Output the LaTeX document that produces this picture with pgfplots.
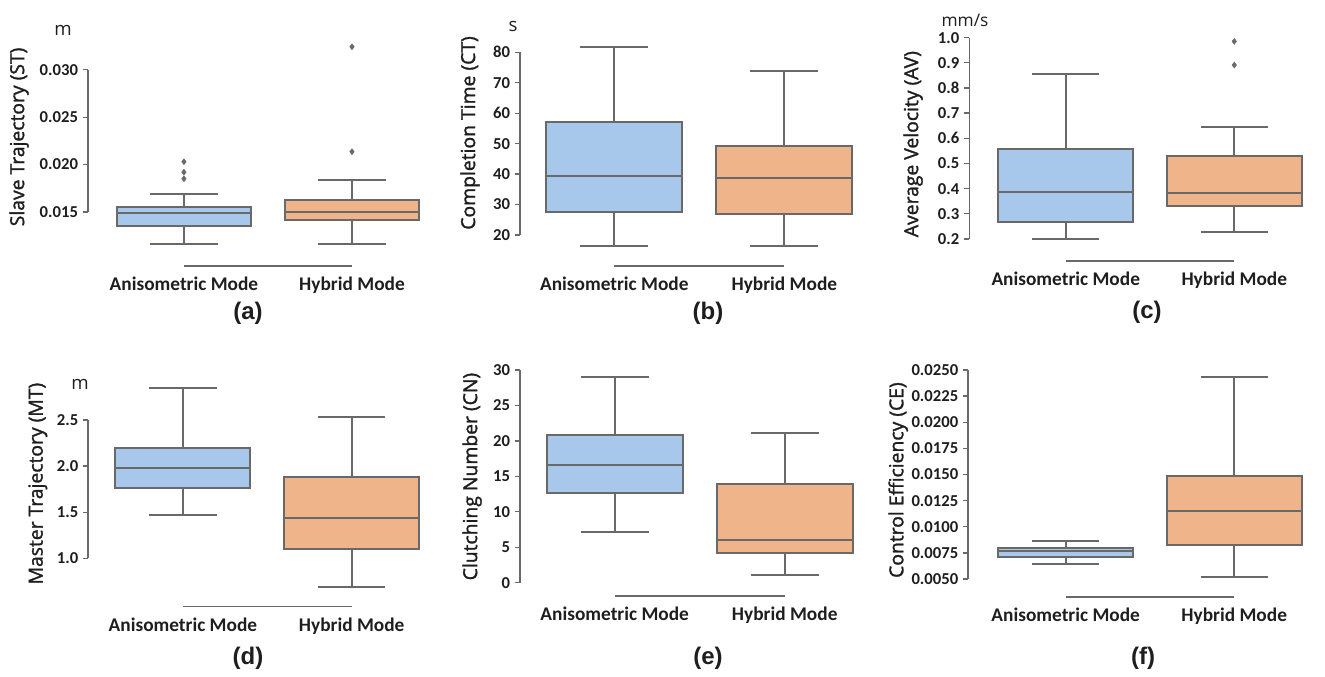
\documentclass[border=0pt]{standalone}
\usepackage{fontspec}
\setmainfont{Carlito}
\newfontfamily\arialfont{Liberation Sans}
\newfontfamily\ylfont[FakeBold=1.5]{Open Sans}
\newfontfamily\unitfont{Open Sans}
\usepackage{pgfplots}
\pgfplotsset{compat=1.18}
\usepgfplotslibrary{statistics}
\definecolor{bfill}{RGB}{167,199,235}
\definecolor{ofill}{RGB}{240,180,138}
\definecolor{lgray}{RGB}{105,105,105}
\definecolor{tgray}{RGB}{30,30,30}
\tikzset{spine/.style={draw=lgray,line width=1.2pt}}
\pgfplotsset{panel/.style={
  scale only axis, clip=false, scaled y ticks=false,
  axis lines*=left, axis line style={draw=none},
  xtick={0,1}, xticklabels={Anisometric Mode,Hybrid Mode},
  tick align=outside, major tick length=4pt,
  xtick style={draw=none},
  ytick style={draw=lgray,line width=1pt},
  yticklabel style={font=\bfseries\fontsize{12.5}{13}\selectfont, text=tgray},
  xticklabel style={font=\bfseries\fontsize{14.5}{16}\selectfont, text=tgray, yshift=-1pt},
  ylabel style={font=\ylfont\fontsize{14.5}{16}\selectfont, text=tgray, anchor=center},
  boxplot/draw direction=y,
  boxplot/box extend=0.8, boxplot/whisker extend=0.4,
},
bx/.style={fill=bfill, draw=lgray, line width=1.4pt, mark=diamond*, mark size=2.2pt, mark options={fill=lgray,draw=lgray,line width=0.4pt}},
ox/.style={fill=ofill, draw=lgray, line width=1.4pt, mark=diamond*, mark size=2.2pt, mark options={fill=lgray,draw=lgray,line width=0.4pt}}
}
\begin{document}
\begin{tikzpicture}
\useasboundingbox (0,0) rectangle (993.75pt,507pt);
% (a)
\begin{axis}[panel, at={(66pt,307.5pt)}, anchor=south west, width=261pt, height=177pt,
  xmin=-0.571, xmax=1.5, ymin=0.0093, ymax=0.0342,
  ytick={0.015,0.020,0.025,0.030}, yticklabels={0.015,0.020,0.025,0.030},
  ylabel={Slave Trajectory (ST)}, ylabel style={at={(axis description cs:-0.198,0.547)}}]
\addplot[bx, boxplot prepared={lower whisker=0.01162, lower quartile=0.01356, median=0.01486, upper quartile=0.0155, upper whisker=0.0169, draw position=0}]
  table[row sep=\\, y index=0] {0.0203\\0.0192\\0.0185\\};
\addplot[ox, boxplot prepared={lower whisker=0.01162, lower quartile=0.01416, median=0.01503, upper quartile=0.01623, upper whisker=0.01838, draw position=1}]
  table[row sep=\\, y index=0] {0.02136\\0.03243\\};
\draw[spine] (axis cs:-0.571,0.015) -- (axis cs:-0.571,0.030);
\draw[spine] (axis cs:0,0.0093) -- (axis cs:1,0.0093);
\end{axis}
% (b)
\begin{axis}[panel, at={(390pt,307.5pt)}, anchor=south west, width=262pt, height=178.5pt,
  xmin=-0.555, xmax=1.5, ymin=9.82, ymax=87.98,
  ytick={20,30,40,50,60,70,80}, yticklabels={20,30,40,50,60,70,80},
  ylabel={Completion Time (CT)}, ylabel style={at={(axis description cs:-0.143,0.559)}}]
\addplot[bx, boxplot prepared={lower whisker=16.5, lower quartile=27.55, median=39.5, upper quartile=57.0, upper whisker=81.7, draw position=0}]
  coordinates {};
\addplot[ox, boxplot prepared={lower whisker=16.5, lower quartile=27.0, median=38.8, upper quartile=49.3, upper whisker=73.9, draw position=1}]
  coordinates {};
\draw[spine] (axis cs:-0.555,20) -- (axis cs:-0.555,80);
\draw[spine] (axis cs:0,9.82) -- (axis cs:1,9.82);
\end{axis}
% (c)
\begin{axis}[panel, at={(727pt,311.25pt)}, anchor=south west, width=261.9pt, height=180.75pt,
  xmin=-0.572, xmax=1.5, ymin=0.1126, ymax=1.07,
  ytick={0.2,0.3,0.4,0.5,0.6,0.7,0.8,0.9,1.0}, yticklabels={0.2,0.3,0.4,0.5,0.6,0.7,0.8,0.9,1.0},
  ylabel={Average Velocity (AV)}, ylabel style={at={(axis description cs:-0.161,0.485)}}]
\addplot[bx, boxplot prepared={lower whisker=0.199, lower quartile=0.266, median=0.3855, upper quartile=0.5576, upper whisker=0.857, draw position=0}]
  coordinates {};
\addplot[ox, boxplot prepared={lower whisker=0.2266, lower quartile=0.33, median=0.3815, upper quartile=0.5298, upper whisker=0.645, draw position=1}]
  table[row sep=\\, y index=0] {0.891\\0.985\\};
\draw[spine] (axis cs:-0.572,0.2) -- (axis cs:-0.572,1.0);
\draw[spine] (axis cs:0,0.1126) -- (axis cs:1,0.1126);
\end{axis}
% (d)
\begin{axis}[panel, at={(66.2pt,52pt)}, anchor=south west, width=260.8pt, height=170pt,
  xmin=-0.561, xmax=1.5, ymin=0.475, ymax=2.934,
  ytick={1.0,1.5,2.0,2.5}, yticklabels={1.0,1.5,2.0,2.5},
  ylabel={Master Trajectory (MT)}, ylabel style={at={(axis description cs:-0.145,0.543)}}]
\addplot[bx, boxplot prepared={lower whisker=1.473, lower quartile=1.766, median=1.979, upper quartile=2.2, upper whisker=2.847, draw position=0}]
  coordinates {};
\addplot[ox, boxplot prepared={lower whisker=0.692, lower quartile=1.104, median=1.44, upper quartile=1.879, upper whisker=2.529, draw position=1}]
  coordinates {};
\draw[spine] (axis cs:-0.561,1.0) -- (axis cs:-0.561,2.5);
\draw[spine] (axis cs:0,0.475) -- (axis cs:1,0.475);
\end{axis}
% (e)
\begin{axis}[panel, at={(390pt,60pt)}, anchor=south west, width=262.3pt, height=173.25pt,
  xmin=-0.557, xmax=1.5, ymin=-1.876, ymax=30.7,
  ytick={0,5,10,15,20,25,30}, yticklabels={0,5,10,15,20,25,30},
  ylabel={Clutching Number (CN)}, ylabel style={at={(axis description cs:-0.137,0.517)}}]
\addplot[bx, boxplot prepared={lower whisker=7.1, lower quartile=12.6, median=16.56, upper quartile=20.79, upper whisker=29.05, draw position=0}]
  coordinates {};
\addplot[ox, boxplot prepared={lower whisker=1.13, lower quartile=4.14, median=6.07, upper quartile=13.96, upper whisker=21.16, draw position=1}]
  coordinates {};
\draw[spine] (axis cs:-0.557,0) -- (axis cs:-0.557,30);
\draw[spine] (axis cs:0,-1.876) -- (axis cs:1,-1.876);
\end{axis}
% (f)
\begin{axis}[panel, at={(726.2pt,59.25pt)}, anchor=south west, width=262.65pt, height=174pt,
  xmin=-0.578, xmax=1.5, ymin=0.003278, ymax=0.02548,
  ytick={0.005,0.0075,0.01,0.0125,0.015,0.0175,0.02,0.0225,0.025},
  yticklabels={0.0050,0.0075,0.0100,0.0125,0.0150,0.0175,0.0200,0.0225,0.0250},
  ylabel={Control Efficiency (CE)}, ylabel style={at={(axis description cs:-0.2,0.504)}}]
\addplot[bx, boxplot prepared={lower whisker=0.006435, lower quartile=0.00708, median=0.00765, upper quartile=0.00794, upper whisker=0.008636, draw position=0}]
  coordinates {};
\addplot[ox, boxplot prepared={lower whisker=0.00522, lower quartile=0.00828, median=0.01153, upper quartile=0.01482, upper whisker=0.0243, draw position=1}]
  coordinates {};
\draw[spine] (axis cs:-0.578,0.005) -- (axis cs:-0.578,0.025);
\draw[spine] (axis cs:0,0.003278) -- (axis cs:1,0.003278);
\end{axis}
% unit labels
\node[font=\unitfont\fontsize{14}{16}\selectfont, text=tgray] at (47.25pt,484pt) {m};
\node[font=\unitfont\fontsize{14}{16}\selectfont, text=tgray] at (384.75pt,487pt) {s};
\node[font=\unitfont\fontsize{13}{15}\selectfont, text=tgray] at (723.75pt,492pt) {mm/s};
\node[font=\unitfont\fontsize{14}{16}\selectfont, text=tgray] at (60pt,219pt) {m};
% subfigure labels
\node[font=\arialfont\bfseries\fontsize{18}{20}\selectfont, text=tgray] at (186pt,272.25pt) {(a)};
\node[font=\arialfont\bfseries\fontsize{18}{20}\selectfont, text=tgray] at (531pt,272.25pt) {(b)};
\node[font=\arialfont\bfseries\fontsize{18}{20}\selectfont, text=tgray] at (860.25pt,273pt) {(c)};
\node[font=\arialfont\bfseries\fontsize{18}{20}\selectfont, text=tgray] at (186pt,13.5pt) {(d)};
\node[font=\arialfont\bfseries\fontsize{18}{20}\selectfont, text=tgray] at (531pt,13.5pt) {(e)};
\node[font=\arialfont\bfseries\fontsize{18}{20}\selectfont, text=tgray] at (857.25pt,13.5pt) {(f)};
\end{tikzpicture}
\end{document}
